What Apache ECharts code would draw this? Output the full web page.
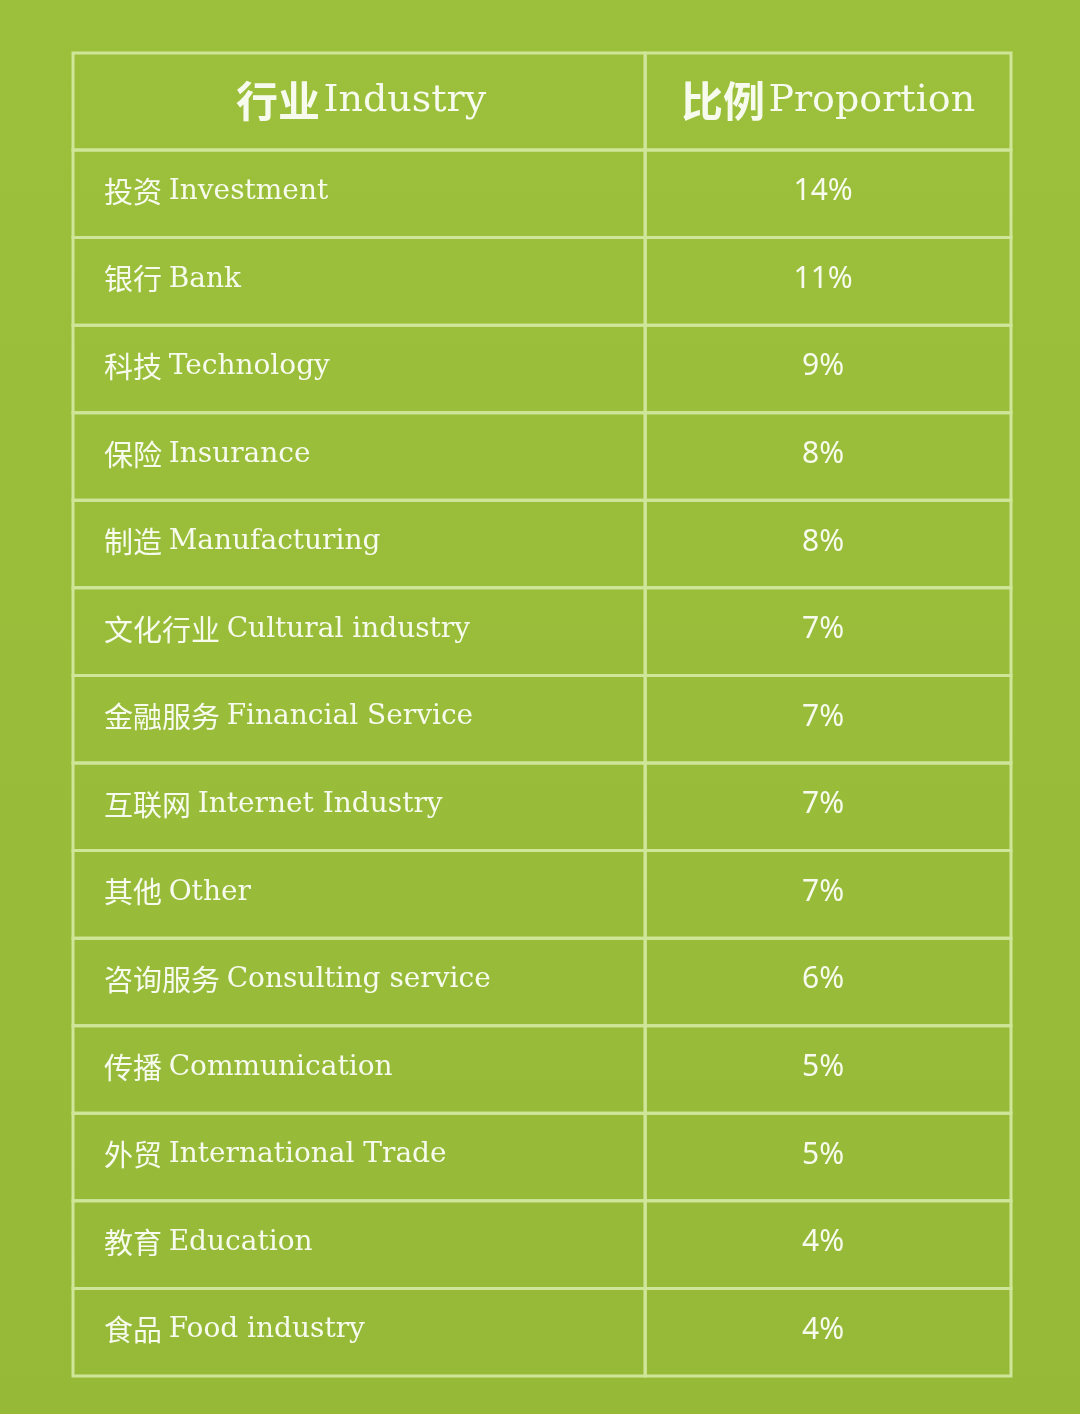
<!DOCTYPE html>
<html><head><meta charset="utf-8">
<script src="https://cdn.jsdelivr.net/npm/echarts@6/dist/echarts.min.js"></script>
<style>html,body{margin:0;padding:0;background:#9abd3a}#c{width:1080px;height:1414px}</style>
</head><body><div id="c"></div>
<script>
const headerCn = ['行业', '比例'];
const headerEn = ['Industry', 'Proportion'];
const industriesCn = ['投资','银行','科技','保险','制造','文化行业','金融服务','互联网','其他','咨询服务','传播','外贸','教育','食品'];
const industriesEn = ['Investment','Bank','Technology','Insurance','Manufacturing','Cultural industry','Financial Service','Internet Industry','Other','Consulting service','Communication','International Trade','Education','Food industry'];
const proportions = [14,11,9,8,8,7,7,7,7,6,5,5,4,4];

const split = 0.61;
const stroke = '#cfe59a';
const txt = '#f7fbee';
const cnFont = '"Noto Sans CJK SC"';
const enFont = '"DejaVu Serif",serif';

function cell(params, api, isHeader) {
  const col = api.value(0), row = api.value(1);
  const p0 = api.coord([0, row]);
  const h = api.size([0, 1])[1];
  const x0 = api.coord([0, row])[0], xs = api.coord([split, row])[0], x1 = api.coord([1, row])[0];
  const left = col === 0 ? x0 : xs, right = col === 0 ? xs : x1;
  const top = p0[1] - h / 2;
  const idx = params.dataIndex;
  let style;
  if (isHeader) {
    style = {x: col === 0 ? (left + right) / 2 + 2 : (left + right) / 2, y: top + h / 2, align: 'center', verticalAlign: 'middle',
      text: '{cn|' + headerCn[col] + '} {en|' + headerEn[col] + '}',
      rich: {cn: {fontFamily: cnFont, fontWeight: 'bold', fontSize: 42, fill: txt},
             en: {fontFamily: enFont, fontSize: 38, fill: txt}}};
  } else {
    const r = Math.floor(idx / 2);
    if (col === 0) {
      style = {x: left + 31, y: top + h / 2 - 2, align: 'left', verticalAlign: 'middle',
        text: '{cn|' + industriesCn[r] + '}  {en|' + industriesEn[r] + '}',
        rich: {cn: {fontFamily: cnFont, fontSize: 29, fill: txt},
               en: {fontFamily: enFont, fontSize: 28, fill: txt}}};
    } else {
      style = {x: (left + right) / 2 - 5, y: top + h / 2 - 2, align: 'center', verticalAlign: 'middle',
        text: proportions[r] + '%', fontFamily: '"Noto Sans"', fontSize: 30, fill: txt};
    }
  }
  return {type: 'group', children: [
    {type: 'rect', shape: {x: left, y: top, width: right - left, height: h},
     style: {fill: 'transparent', stroke: stroke, lineWidth: 3}},
    {type: 'text', style: style}
  ]};
}

const bodyData = [];
industriesCn.forEach((c, i) => { bodyData.push([0, i]); bodyData.push([1, i]); });
const rowsIdx = industriesCn.map((c, i) => i);

const chart = echarts.init(document.getElementById('c'));
chart.setOption({
  backgroundColor: {type: 'linear', x: 0, y: 0, x2: 0, y2: 1,
    colorStops: [{offset: 0, color: '#9cc03b'}, {offset: 1, color: '#96ba38'}]},
  animation: false,
  grid: [
    {left: 73, right: 69, top: 53, height: 97},
    {left: 73, right: 69, top: 150, bottom: 38}
  ],
  xAxis: [
    {gridIndex: 0, type: 'value', min: 0, max: 1, show: false},
    {gridIndex: 1, type: 'value', min: 0, max: 1, show: false}
  ],
  yAxis: [
    {gridIndex: 0, type: 'category', data: [0], show: false},
    {gridIndex: 1, type: 'category', data: rowsIdx, inverse: true, show: false}
  ],
  series: [
    {type: 'custom', xAxisIndex: 0, yAxisIndex: 0, data: [[0, 0], [1, 0]],
     renderItem: (p, a) => cell(p, a, true)},
    {type: 'custom', xAxisIndex: 1, yAxisIndex: 1, data: bodyData,
     renderItem: (p, a) => cell(p, a, false)}
  ]
});
</script></body></html>
